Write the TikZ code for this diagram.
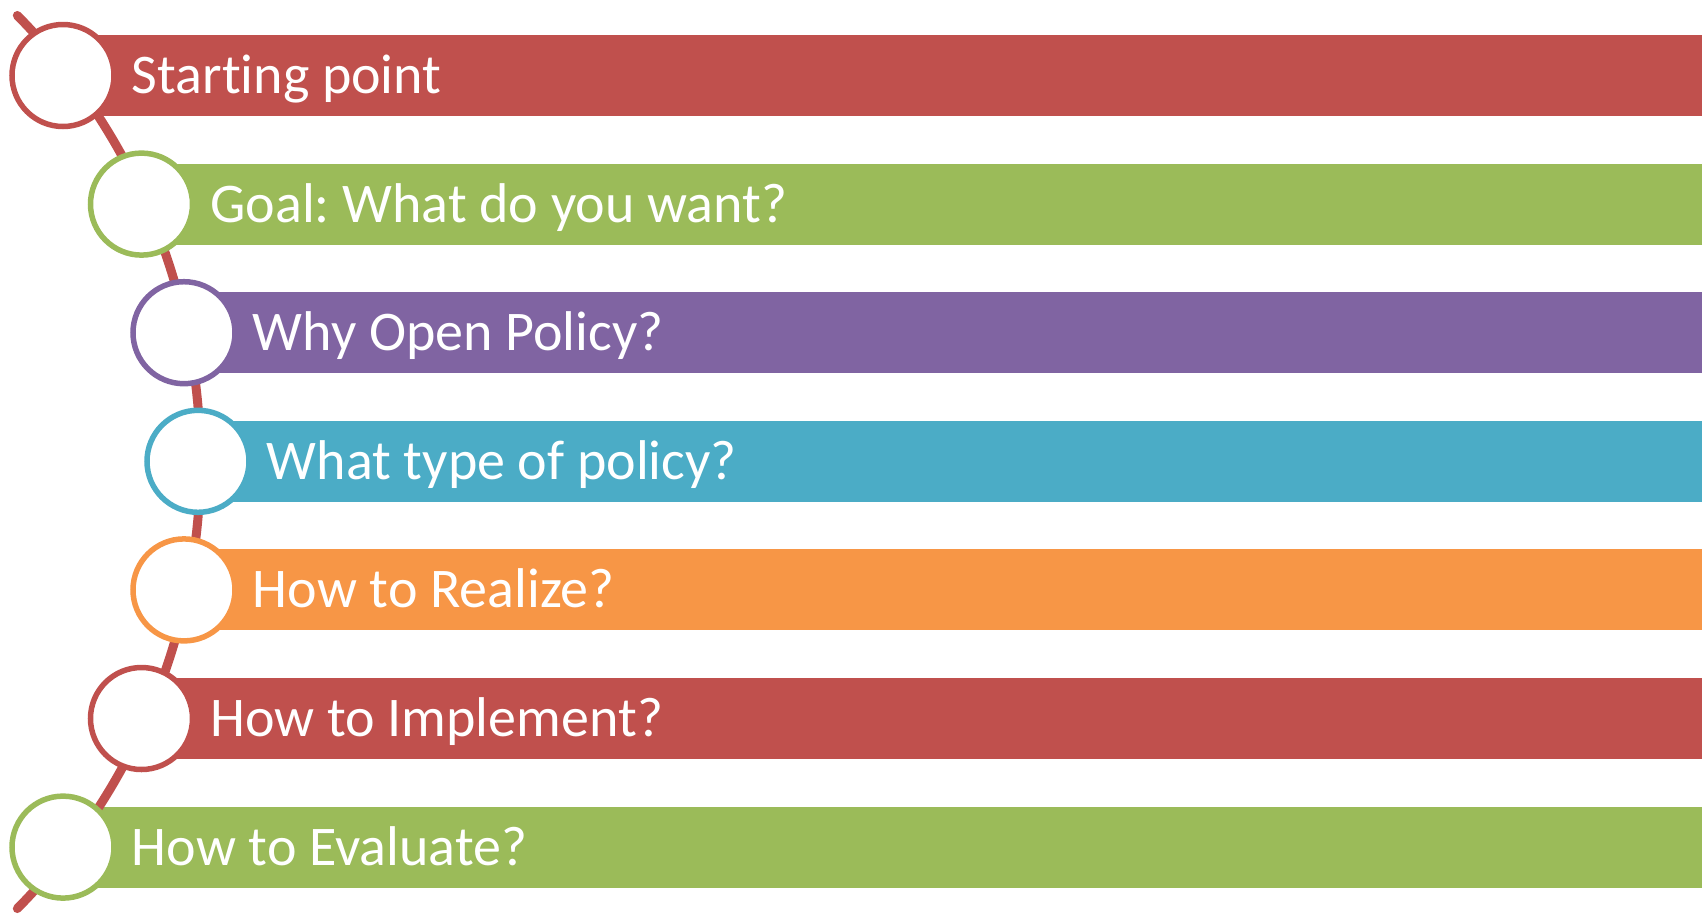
\documentclass[tikz,border=0pt]{standalone}
\usepackage{fontspec}
\setmainfont{Carlito}[Ligatures=NoCommon]
\frenchspacing
\usetikzlibrary{positioning}

\begin{document}
\begin{tikzpicture}[
        x=1pt, y=1pt,
        node distance=15pt,
        band/.style={anchor=west,minimum height=81pt,inner sep=0pt},
        ring/.style={circle,fill=white,line width=5.5pt,minimum size=102pt,inner sep=0pt},
        tag/.style={white,inner sep=0pt,text height=36pt,text depth=0pt,font=\fontsize{56}{67}\selectfont}
    ]
        \definecolor{rex}{HTML}{C0504D}
        \definecolor{grx}{HTML}{9BBB59}
        \definecolor{pux}{HTML}{8064A2}
        \definecolor{tex}{HTML}{4BACC6}
        \definecolor{orx}{HTML}{F79646}

        \useasboundingbox (0,0) rectangle (1702,-914);

        \node (b1) [band,fill=rex,minimum width=1639pt]   at (63,-75.5)    {};
        \node (b2) [band,fill=grx,minimum width=1560.5pt] at (141.5,-204.1) {};
        \node (b3) [band,fill=pux,minimum width=1518pt]   at (184,-332.7)   {};
        \node (b4) [band,fill=tex,minimum width=1504pt]   at (198,-461.3)   {};
        \node (b5) [band,fill=orx,minimum width=1518pt]   at (184,-589.9)   {};
        \node (b6) [band,fill=rex,minimum width=1560.5pt] at (141.5,-718.5) {};
        \node (b7) [band,fill=grx,minimum width=1639pt]   at (63,-847.1)    {};

        \coordinate (hub) at (-435.5,-462);
        \draw [rex,line width=9pt,line cap=round] (hub) ++(44.6:636) arc[start angle=44.6,end angle=-44.6,radius=636];

        \node (c1) [ring,draw=rex] at (b1.west) {};
        \node (c2) [ring,draw=grx] at (b2.west) {};
        \node (c3) [ring,draw=pux] at (b3.west) {};
        \node (c4) [ring,draw=tex] at (b4.west) {};
        \node (c5) [ring,draw=orx] at (b5.west) {};
        \node (c6) [ring,draw=rex] at (b6.west) {};
        \node (c7) [ring,draw=grx] at (b7.west) {};

        \node (t1) [tag,right=of c1] {Starting point};
        \node (t2) [tag,right=of c2] {Goal: What do you want?};
        \node (t3) [tag,right=of c3] {Why Open Policy?};
        \node (t4) [tag,right=of c4] {What type of policy?};
        \node (t5) [tag,right=of c5] {How to Realize?};
        \node (t6) [tag,right=of c6] {How to Implement?};
        \node (t7) [tag,right=of c7] {How to Evaluate?};
\end{tikzpicture}
\end{document}
